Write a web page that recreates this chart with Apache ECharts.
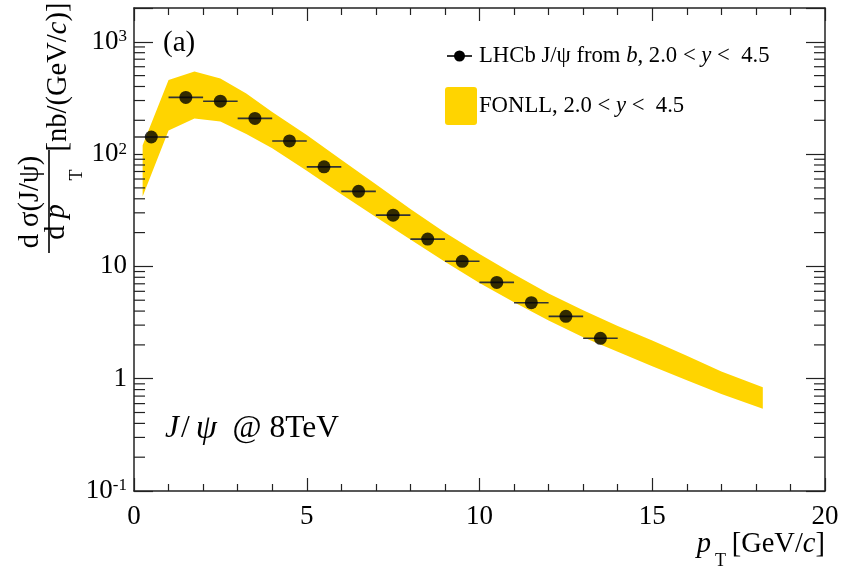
<!DOCTYPE html>
<html><head><meta charset="utf-8">
<script src="https://cdn.jsdelivr.net/npm/echarts@6/dist/echarts.min.js"></script>
<style>html,body{margin:0;padding:0;background:#fff}#c{width:844px;height:571px}</style>
</head><body><div id="c"></div>
<script>
// ---- data ----
const ptCenter = [0.5, 1.5, 2.5, 3.5, 4.5, 5.5, 6.5, 7.5, 8.5, 9.5, 10.5, 11.5, 12.5, 13.5];
const ptLow    = [0, 1, 2, 3, 4, 5, 6, 7, 8, 9, 10, 11, 12, 13];
const ptHigh   = [1, 2, 3, 4, 5, 6, 7, 8, 9, 10, 11, 12, 13, 14];
const sigma    = [142, 320, 296, 208, 131, 77, 46.6, 28.6, 17.5, 11.1, 7.2, 4.75, 3.59, 2.29];

const bandPt = [0.25, 1.0, 1.75, 2.5, 3.25, 4.0, 5, 6, 7, 8, 9, 10, 11, 12, 13, 14, 15, 16, 17, 18.2];
const bandUp = [120, 457, 545, 472, 347, 237, 148, 89, 54, 32.4, 20, 12.9, 8.5, 5.75, 4.07, 2.95, 2.19, 1.6, 1.16, 0.84];
const bandLo = [42, 162, 208, 195, 151, 113, 71, 44, 27.5, 17.4, 11, 7.1, 4.8, 3.3, 2.34, 1.74, 1.29, 0.97, 0.73, 0.54];

const xTickLabels = ['0', '5', '10', '15', '20'];
const yMajorTicks = [0.1, 1, 10, 100, 1000];
const yTickLabels = ['{b|10}{s|-1}', '1', '10', '{b|10}{s|2}', '{b|10}{s|3}'];
const yMinorTicks = [0.2,0.3,0.4,0.5,0.6,0.7,0.8,0.9, 2,3,4,5,6,7,8,9, 20,30,40,50,60,70,80,90, 200,300,400,500,600,700,800,900];

// ---- style ----
const SERIF = "'Liberation Serif','DejaVu Serif',serif";
const AX = '#222';
const YELLOW = '#FFD400';

const chart = echarts.init(document.getElementById('c'), null, {renderer: 'canvas'});

const xAxisBase = {
  type: 'value', min: 0, max: 20, interval: 5,
  axisLine: {show: true, onZero: false, lineStyle: {color: AX, width: 1.5}},
  axisTick: {show: true, inside: true, length: 13, lineStyle: {color: AX, width: 1.2}},
  minorTick: {show: true, splitNumber: 5, length: 7, lineStyle: {color: AX, width: 1.2}},
  splitLine: {show: false}
};
const yAxisBase = {
  type: 'log', logBase: 10, min: 0.1, max: 2000,
  axisLine: {show: true, onZero: false, lineStyle: {color: AX, width: 1.5}},
  axisTick: {show: true, inside: true, length: 19, lineStyle: {color: AX, width: 1.2}},
  splitLine: {show: false}
};

function yLabel(v) {
  for (let i = 0; i < yMajorTicks.length; i++) {
    if (Math.abs(Math.log10(v) - Math.log10(yMajorTicks[i])) < 1e-6) return yTickLabels[i];
  }
  return '';
}

function minorTickSeries(side) {
  return {
    name: 'minorY' + side, type: 'custom', xAxisIndex: 0, yAxisIndex: 0, silent: true, z: 5, clip: false,
    data: yMinorTicks.map(v => [side === 'L' ? 0 : 20, v]),
    renderItem: (params, api) => {
      const p = api.coord([api.value(0), api.value(1)]);
      const x2 = side === 'L' ? p[0] + 11 : p[0] - 11;
      return {type: 'line', shape: {x1: p[0], y1: p[1], x2: x2, y2: p[1]},
              style: {stroke: AX, lineWidth: 1.2}};
    }
  };
}

function rt(size) {
  return {r: {fontFamily: SERIF, fontSize: size, fill: '#000', color: '#000'},
          i: {fontFamily: SERIF, fontSize: size, fontStyle: 'italic', fill: '#000', color: '#000'}};
}

const jpsiRich = {
  j: {fontFamily: SERIF, fontSize: 31.5, fontStyle: 'italic', fill: '#000', color: '#000'},
  sl: {fontFamily: SERIF, fontSize: 31.5, fill: '#000', color: '#000', padding: [0, 6, 0, 2]},
  p: {fontFamily: SERIF, fontSize: 34, fontStyle: 'italic', fill: '#000', color: '#000'},
  r: {fontFamily: SERIF, fontSize: 31.5, fill: '#000', color: '#000'}
};

const option = {
  animation: false,
  backgroundColor: '#fff',
  grid: {left: 134, right: 19, top: 8, bottom: 80, containLabel: false},
  xAxis: [
    Object.assign({}, xAxisBase, {
      position: 'bottom',
      axisLabel: {show: true, margin: 12, fontFamily: SERIF, fontSize: 27, color: '#000',
        formatter: v => { const i = [0,5,10,15,20].indexOf(v); return i >= 0 ? xTickLabels[i] : ''; }}
    }),
    Object.assign({}, xAxisBase, {position: 'top', axisLabel: {show: false}})
  ],
  yAxis: [
    Object.assign({}, yAxisBase, {
      position: 'left',
      axisLabel: {show: true, margin: 7, fontFamily: SERIF, fontSize: 27, color: '#000',
        formatter: yLabel,
        rich: {b: {fontFamily: SERIF, fontSize: 27, color: '#000'},
               s: {fontFamily: SERIF, fontSize: 17, color: '#000', verticalAlign: 'top'}}}
    }),
    Object.assign({}, yAxisBase, {position: 'right', axisLabel: {show: false}})
  ],
  series: [
    {
      name: 'FONLL', type: 'custom', xAxisIndex: 0, yAxisIndex: 0, clip: true, silent: true, z: 1,
      data: bandPt.map((p, i) => [p, bandUp[i]]),
      renderItem: (params, api) => {
        if (params.dataIndex !== 0) return null;
        const pts = [];
        for (let i = 0; i < bandPt.length; i++) pts.push(api.coord([bandPt[i], bandUp[i]]));
        for (let i = bandPt.length - 1; i >= 0; i--) pts.push(api.coord([bandPt[i], bandLo[i]]));
        return {type: 'polygon', shape: {points: pts}, style: {fill: YELLOW, stroke: null}};
      }
    },
    minorTickSeries('L'),
    minorTickSeries('R'),
    {
      name: 'xerr', type: 'custom', xAxisIndex: 0, yAxisIndex: 0, silent: true, z: 3,
      encode: {x: [0, 1], y: 2},
      data: ptCenter.map((p, i) => [ptLow[i], ptHigh[i], sigma[i]]),
      renderItem: (params, api) => {
        const a = api.coord([api.value(0), api.value(2)]);
        const b = api.coord([api.value(1), api.value(2)]);
        return {type: 'line', shape: {x1: a[0], y1: a[1], x2: b[0], y2: b[1]}, style: {stroke: '#333', lineWidth: 1.6}};
      }
    },
    {
      name: 'LHCb', type: 'scatter', xAxisIndex: 0, yAxisIndex: 0, z: 4,
      symbol: 'circle', symbolSize: 13,
      itemStyle: {color: '#000'},
      data: ptCenter.map((p, i) => [p, sigma[i]])
    }
  ],
  graphic: [
    // legend
    {type: 'line', shape: {x1: 447, y1: 56, x2: 472, y2: 56}, style: {stroke: '#000', lineWidth: 1.6}, z: 10},
    {type: 'circle', shape: {cx: 459.5, cy: 56, r: 5.5}, style: {fill: '#000'}, z: 10},
    {type: 'text', x: 479, y: 56, z: 10, style: {
      text: '{r|LHCb J/ψ from }{i|b}{r|, 2.0 < }{i|y}{r| <  4.5}',
      align: 'left', verticalAlign: 'middle', textAlign: 'left', textVerticalAlign: 'middle', rich: rt(22.7)}},
    {type: 'rect', shape: {x: 445, y: 87, width: 32, height: 38, r: 3}, style: {fill: YELLOW}, z: 10},
    {type: 'text', x: 479, y: 106, z: 10, style: {
      text: '{r|FONLL, 2.0 < }{i|y}{r| <  4.5}',
      align: 'left', verticalAlign: 'middle', textAlign: 'left', textVerticalAlign: 'middle', rich: rt(22.7)}},
    // (a)
    {type: 'text', x: 163, y: 43, z: 10, style: {text: '(a)', font: '29px ' + SERIF, fill: '#000',
      align: 'left', verticalAlign: 'middle', textAlign: 'left', textVerticalAlign: 'middle'}},
    // J/psi @ 8TeV
    {type: 'text', x: 165, y: 429, z: 10, style: {
      text: '{j|J}{sl|/}{p|ψ}{r|  @ 8TeV}',
      align: 'left', verticalAlign: 'middle', textAlign: 'left', textVerticalAlign: 'middle', rich: jpsiRich}},
    // x title
    {type: 'text', x: 825, y: 545, z: 10, style: {
      text: '{r|[GeV/}{i|c}{r|]}',
      align: 'right', verticalAlign: 'middle', textAlign: 'right', textVerticalAlign: 'middle', rich: rt(28.5)}},
    {type: 'text', x: 726, y: 561, z: 10, style: {text: 'T', font: '18px ' + SERIF, fill: '#000',
      align: 'right', verticalAlign: 'middle', textAlign: 'right', textVerticalAlign: 'middle'}},
    {type: 'text', x: 711, y: 545, z: 10, style: {text: 'p', font: 'italic 28.5px ' + SERIF, fill: '#000',
      align: 'right', verticalAlign: 'middle', textAlign: 'right', textVerticalAlign: 'middle'}},
    // y title (rotated)
    {type: 'text', x: 31, y: 202, rotation: Math.PI / 2, z: 10, style: {
      text: 'd σ(J/ψ)', font: '28.5px ' + SERIF, fill: '#000',
      align: 'center', verticalAlign: 'middle', textAlign: 'center', textVerticalAlign: 'middle'}},
    {type: 'line', shape: {x1: 49, y1: 150, x2: 49, y2: 253}, style: {stroke: '#000', lineWidth: 1.6}, z: 10},
    {type: 'text', x: 57, y: 222, rotation: Math.PI / 2, z: 10, style: {
      text: '{r|d }{i|p}',
      align: 'center', verticalAlign: 'middle', textAlign: 'center', textVerticalAlign: 'middle', rich: rt(28.5)}},
    {type: 'text', x: 77, y: 175, rotation: Math.PI / 2, z: 10, style: {
      text: 'T', font: '18px ' + SERIF, fill: '#000',
      align: 'center', verticalAlign: 'middle', textAlign: 'center', textVerticalAlign: 'middle'}},
    {type: 'text', x: 59, y: 77, rotation: Math.PI / 2, z: 10, style: {
      text: '{r|[nb/(GeV/}{i|c}{r|)]}',
      align: 'center', verticalAlign: 'middle', textAlign: 'center', textVerticalAlign: 'middle', rich: rt(28.5)}}
  ]
};
chart.setOption(option);
</script>
</body></html>
